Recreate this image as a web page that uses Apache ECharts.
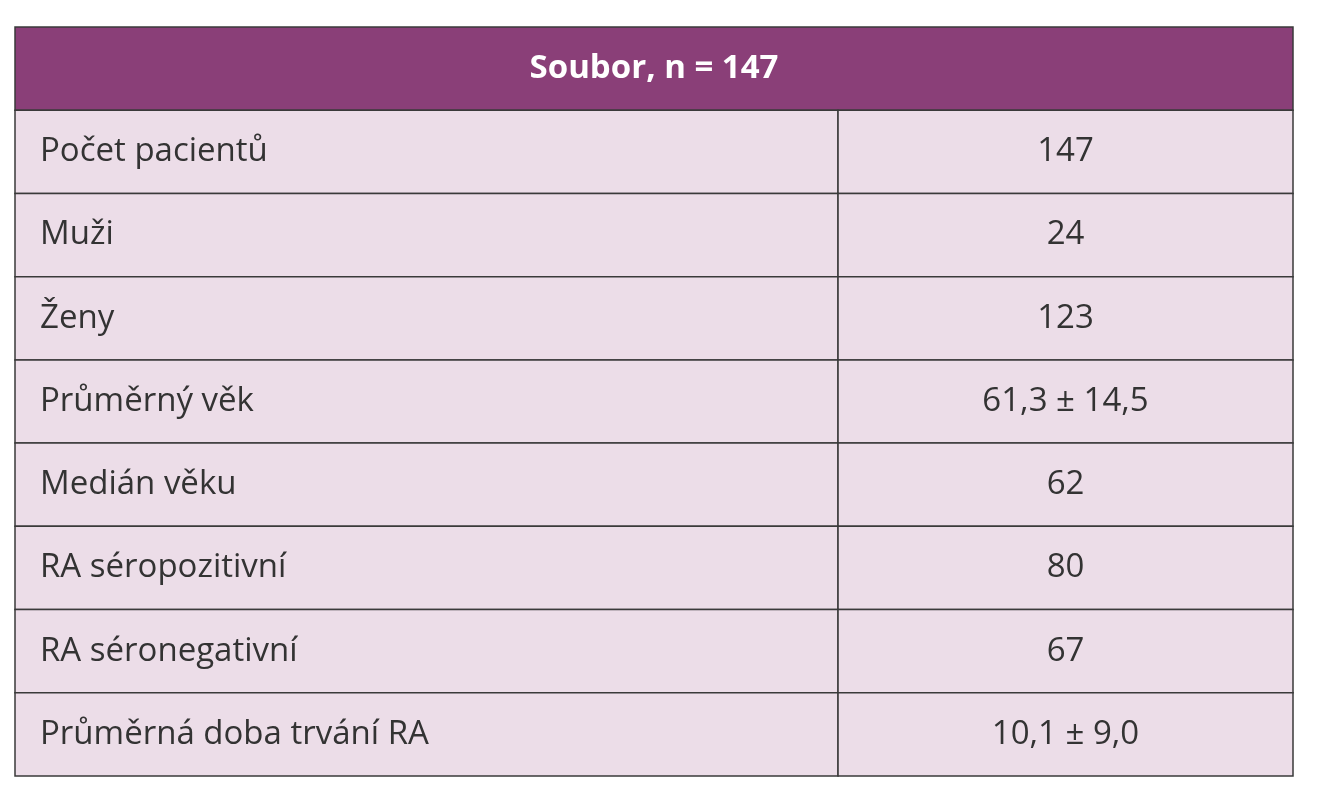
<!DOCTYPE html>
<html><head><meta charset="utf-8">
<script src="https://cdn.jsdelivr.net/npm/echarts@6/dist/echarts.min.js"></script>
<style>html,body{margin:0;padding:0;background:#fff}#c{width:1327px;height:800px}</style>
</head><body><div id="c"></div>
<script>
const headerText = "Soubor, n = 147";
const labels = ["Počet pacientů","Muži","Ženy","Průměrný věk","Medián věku","RA séropozitivní","RA séronegativní","Průměrná doba trvání RA"];
const values = ["147","24","123","61,3 ± 14,5","62","80","67","10,1 ± 9,0"];
const rows = ["h"].concat(labels.map((_, i) => "r" + i));
const split = 64.4;

const cells = [{value:[0,100,0], text:headerText, kind:"header"}];
labels.forEach((l,i)=>{
  cells.push({value:[0,split,i+1], text:l, kind:"label"});
  cells.push({value:[split,100,i+1], text:values[i], kind:"value"});
});

const chart = echarts.init(document.getElementById('c'));
chart.setOption({
  animation:false,
  grid:{left:15,right:34,top:27,bottom:24},
  xAxis:{type:'value',min:0,max:100,show:false},
  yAxis:{type:'category',data:rows,inverse:true,show:false},
  series:[{
    type:'custom',
    data:cells.map(c=>c.value),
    encode:{x:[0,1],y:2},
    renderItem:function(params, api){
      const c = cells[params.dataIndex];
      const row = api.value(2);
      const p0 = api.coord([api.value(0), row]);
      const p1 = api.coord([api.value(1), row]);
      const h = api.size([0,1])[1];
      const x = p0[0], y = p0[1]-h/2, w = p1[0]-p0[0];
      const isH = c.kind === 'header';
      const tx = c.kind === 'label' ? x+25 : x+w/2;
      return {type:'group',children:[
        {type:'rect',shape:{x:x,y:y,width:w,height:h},
         style:{fill:isH?'#8a3f78':'#ecdde8',stroke:'#3a3a3a',lineWidth:1.5}},
        {type:'text',style:{text:c.text,x:tx,y:y+h/2,
          align:c.kind==='label'?'left':'center',verticalAlign:'middle',
          fill:isH?'#ffffff':'#333333',
          font:(isH?'bold ':'normal ')+'33px "Open Sans", sans-serif'}}
      ]};
    }
  }]
});
</script></body></html>
